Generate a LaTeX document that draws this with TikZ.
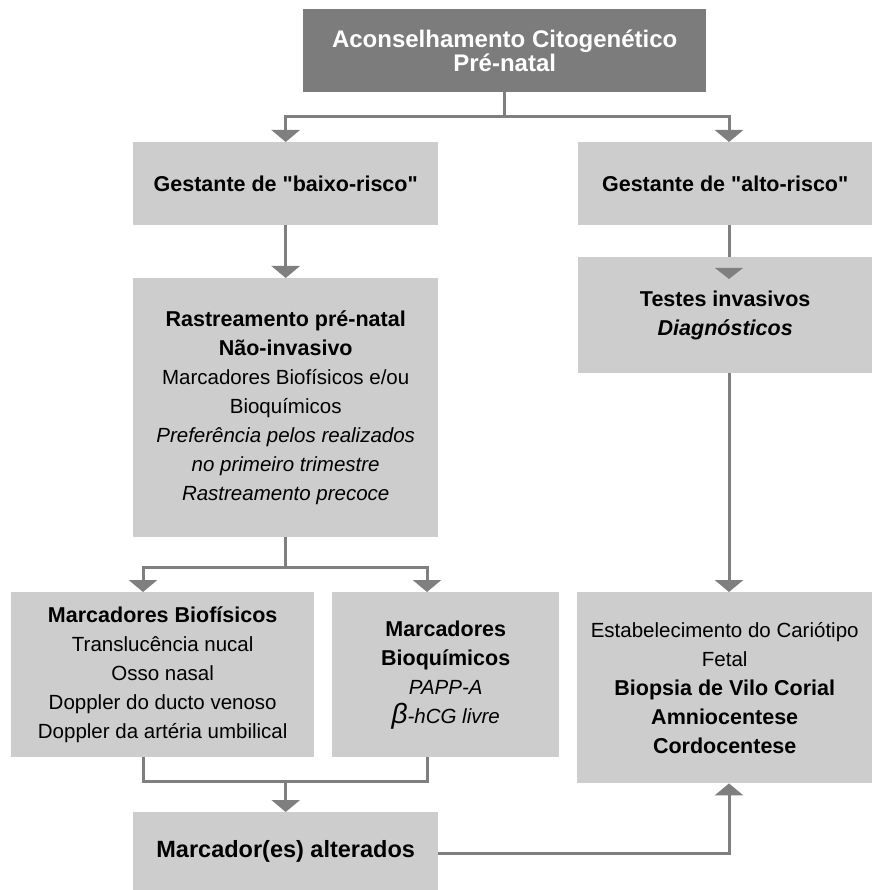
\documentclass[tikz,border=0pt]{standalone}
\usepackage{fontspec}
\setmainfont{Liberation Sans}[Ligatures=TeXOff]
\usetikzlibrary{arrows.meta}
\definecolor{boxgray}{HTML}{CDCDCD}
\definecolor{darkbox}{HTML}{7C7C7C}
\definecolor{linegray}{HTML}{7F7F7F}
\newcommand\bfl[1]{{\fontsize{21.5}{29}\selectfont\bfseries #1}}
\begin{document}
\begin{tikzpicture}[x=1pt,y=-1pt,
  gbox/.style={fill=boxgray, draw=none, inner sep=0pt, align=center,
    anchor=north west, font=\fontsize{20.5}{29}\selectfont},
  conn/.style={draw=linegray, line width=3pt},
  arr/.style={conn, -{Triangle[width=28pt,length=12pt]}},
  tri/.style={fill=linegray, draw=none}]
\useasboundingbox (0,0) rectangle (872,890);

% boxes
\node[gbox, fill=darkbox, text=white, minimum width=403pt, minimum height=83pt,
  font=\fontsize{24}{24}\selectfont\bfseries] (top) at (303,9)
  {Aconselhamento Citogenético\\Pré-natal};
\node[gbox, minimum width=305pt, minimum height=83pt] (baixo) at (133,142)
  {\bfl{Gestante de "baixo-risco"}};
\node[gbox, minimum width=294pt, minimum height=83pt] (alto) at (578,142)
  {\bfl{Gestante de "alto-risco"}};
\node[gbox, minimum width=305pt, minimum height=259pt] (rast) at (133,278)
  {\bfl{Rastreamento pré-natal}\\
   \bfl{Não-invasivo}\\
   Marcadores Biofísicos e/ou\\
   Bioquímicos\\
   \textit{Preferência pelos realizados}\\
   \textit{no primeiro trimestre}\\
   \textit{Rastreamento precoce}};
\node[gbox, minimum width=294pt, minimum height=116pt] (testes) at (578,257)
  {\bfl{Testes invasivos}\\
   \bfl{\itshape Diagnósticos}};
\node[gbox, minimum width=303pt, minimum height=165pt] (biof) at (11,592)
  {\bfl{Marcadores Biofísicos}\\
   Translucência nucal\\
   Osso nasal\\
   Doppler do ducto venoso\\
   Doppler da artéria umbilical};
\node[gbox, minimum width=227pt, minimum height=165pt] (bioq) at (332,592)
  {\bfl{Marcadores}\\
   \bfl{Bioquímicos}\\
   \textit{PAPP-A}\\
   \textit{{\fontsize{28}{29}\selectfont β}-hCG livre}};
\node[gbox, minimum width=295pt, minimum height=191pt] (estab) at (577,592)
  {Estabelecimento do Cariótipo\\
   Fetal\\
   \bfl{Biopsia de Vilo Corial}\\
   \bfl{Amniocentese}\\
   \bfl{Cordocentese}};
\node[gbox, minimum width=305pt, minimum height=78pt,
  font=\fontsize{23.5}{29}\selectfont\bfseries] (marc) at (133,812)
  {Marcador(es) alterados};

% junction coordinates
\coordinate (j1) at (top.south |- 0,117);
\coordinate (rc) at (729,0);
\coordinate (j2) at (rast.south |- 0,567);
\coordinate (bfx) at (143,0);
\coordinate (bqx) at (427,0);
\coordinate (j3) at (0,781);

% connectors
\draw[conn] (top.south) -- (j1);
\draw[arr] (j1) -| (baixo.north);
\draw[arr] (j1) -| (rc |- alto.north);
\draw[arr] (baixo.south) -- (rast.north);
\draw[conn] (rc |- alto.south) -- (rc |- testes.north);
\fill[tri] ([xshift=-14pt,yshift=-11pt]rc |- testes.north) -- ([xshift=14pt,yshift=-11pt]rc |- testes.north) -- ([yshift=-22pt]rc |- testes.north) -- cycle;
\draw[conn] (rast.south) -- (j2);
\draw[arr] (j2) -| (bfx |- biof.north);
\draw[arr] (j2) -| (bqx |- bioq.north);
\draw[arr] (rc |- testes.south) -- (rc |- estab.north);
\draw[conn] (bfx |- biof.south) -- (bfx |- j3) -- (bqx |- j3) -- (bqx |- bioq.south);
\draw[arr] (marc.north |- j3) -- (marc.north);
\draw[arr] (marc.east |- 0,853) -| (rc |- estab.south);
\end{tikzpicture}
\end{document}
